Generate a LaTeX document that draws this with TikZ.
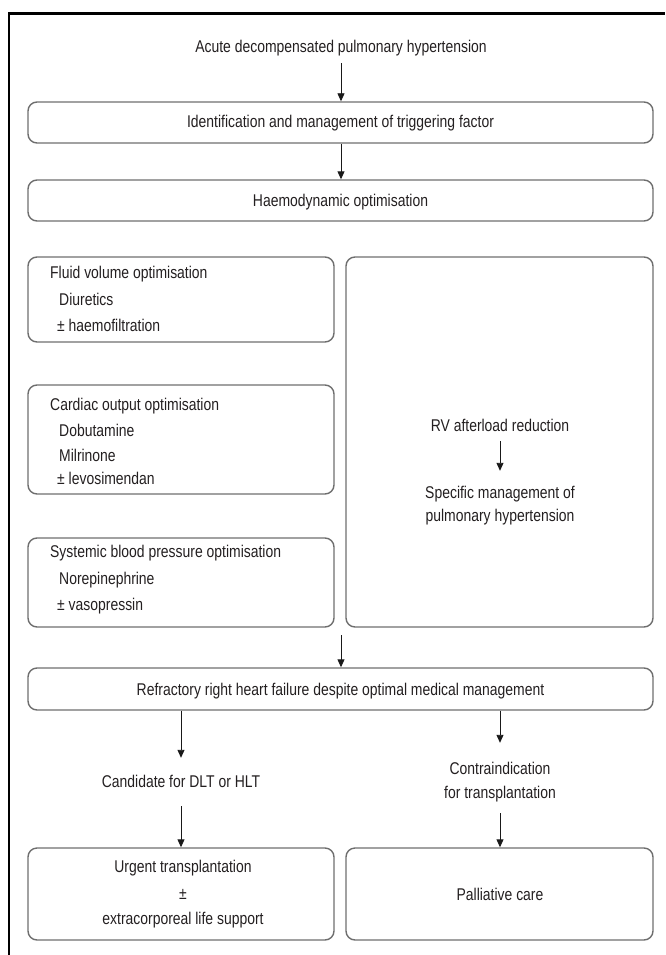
\documentclass[tikz,border=0pt]{standalone}
\usepackage{fontspec}
\setmainfont{Liberation Sans}[FakeStretch=0.82]
\usetikzlibrary{arrows.meta}
\definecolor{txt}{RGB}{35,31,32}
\definecolor{boxc}{RGB}{110,110,110}
\begin{document}
\begin{tikzpicture}[x=1pt,y=-1pt,
  box/.style={draw=boxc, line width=1.4pt, rounded corners=9pt, inner sep=0pt},
  lbl/.style={inner sep=0pt, text height=12pt, text depth=4pt, text=txt, font=\fontsize{17}{20}\selectfont, anchor=base},
  lbll/.style={lbl, anchor=base west},
  arr/.style={draw=black!90, line width=0.9pt, -{Triangle[width=7pt,length=8pt]}}
]
\useasboundingbox (0,0) rectangle (665,955);
% frame
\draw[line width=2.2pt] (8.8,955) -- (8.8,13.5) -- (665,13.5);

% boxes
\node[box, minimum width=625pt, minimum height=41pt] (b1) at (340.5,122.5) {};
\node[box, minimum width=625pt, minimum height=41pt] (b2) at (340.5,200.5) {};
\node[box, minimum width=306pt, minimum height=85pt] (fl) at (181,299.5) {};
\node[box, minimum width=306pt, minimum height=109pt] (co) at (181,439.5) {};
\node[box, minimum width=306pt, minimum height=89pt] (sy) at (181,582.5) {};
\node[box, minimum width=307pt, minimum height=370pt] (rv) at (499.5,442) {};
\node[box, minimum width=625pt, minimum height=42pt] (refr) at (340.5,689) {};
\node[box, minimum width=306pt, minimum height=92pt] (bl) at (181,894) {};
\node[box, minimum width=307pt, minimum height=92pt] (br) at (499.5,894) {};

% texts
\node[lbl] (title) at (341,53) {Acute decompensated pulmonary hypertension};
\node[lbl] (t1) at (340.5,128) {Identification and management of triggering factor};
\node[lbl] (t2) at (340.5,206) {Haemodynamic optimisation};

\node[lbll] (f1) at (50,278) {Fluid volume optimisation};
\node[lbll] (f2) at (59,305) {Diuretics};
\node[lbll] (f3) at (57,331) {± haemofiltration};

\node[lbll] (c1) at (50,410) {Cardiac output optimisation};
\node[lbll] (c2) at (59,436) {Dobutamine};
\node[lbll] (c3) at (59,461) {Milrinone};
\node[lbll] (c4) at (57,484) {± levosimendan};

\node[lbll] (s1) at (50,557) {Systemic blood pressure optimisation};
\node[lbll] (s2) at (59,584) {Norepinephrine};
\node[lbll] (s3) at (57,610) {± vasopressin};

\node[lbl] (rv1) at (500,431) {RV afterload reduction};
\node[lbl] (rv2) at (500,498) {Specific management of};
\node[lbl] (rv3) at (500,521) {pulmonary hypertension};

\node[lbl] (tr) at (340.5,695) {Refractory right heart failure despite optimal medical management};
\node[lbl] (cand) at (181,787) {Candidate for DLT or HLT};
\node[lbl] (ci1) at (500,774) {Contraindication};
\node[lbl] (ci2) at (500,798) {for transplantation};

\node[lbl] (u1) at (183,872) {Urgent transplantation};
\node[lbl] (u2) at (183,899) {±};
\node[lbl] (u3) at (183,924) {extracorporeal life support};
\node[lbl] (pc) at (500,900) {Palliative care};

\coordinate (mid) at (341,635);

% arrows
\draw[arr] ([yshift=-6pt]title.south) -- (b1.north -| title.south);
\draw[arr] (b1.south -| title.south) -- (b2.north -| title.south);
\draw[arr] ([yshift=-6pt]rv1.south) -- ([yshift=15pt]rv2.north);
\draw[arr] (mid) -- (refr.north -| mid);
\draw[arr] (refr.south -| cand.north) -- ([yshift=17pt]cand.north);
\draw[arr] ([yshift=-15pt]cand.south) -- (bl.north -| cand.south);
\draw[arr] (refr.south -| ci1.north) -- ([yshift=19pt]ci1.north);
\draw[arr] ([yshift=-11pt]ci2.south) -- (br.north -| ci2.south);
\end{tikzpicture}
\end{document}
